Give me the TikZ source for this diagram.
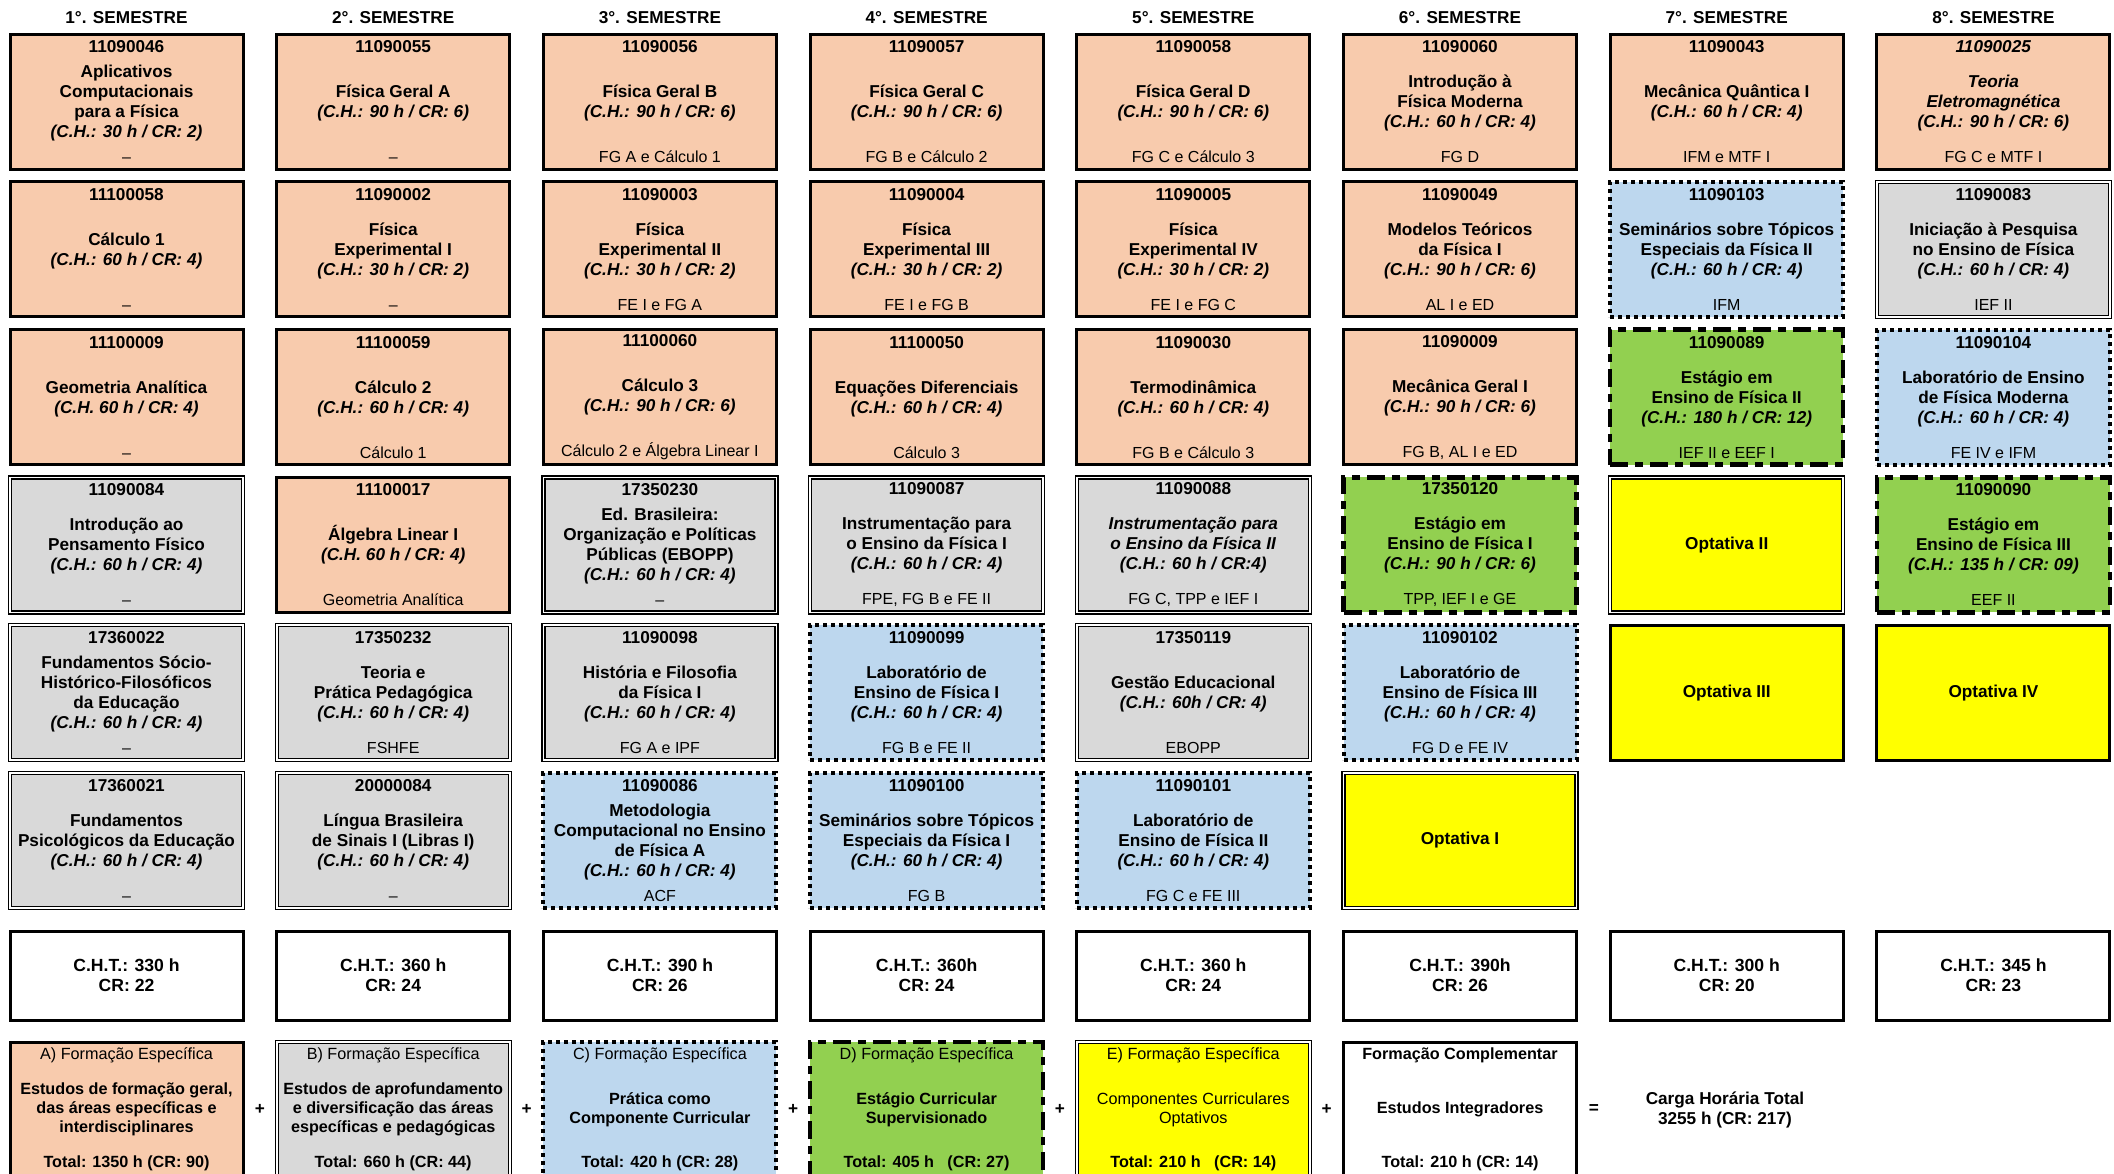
\documentclass[tikz,border=0pt]{standalone}
\usepackage{fontspec}
\setmainfont{Liberation Sans}
\usetikzlibrary{positioning,calc}
\definecolor{salmao}{HTML}{F8CBAD}
\definecolor{cinza}{HTML}{D9D9D9}
\definecolor{azul}{HTML}{BDD7EE}
\definecolor{verde}{HTML}{92D050}
\definecolor{amarelo}{HTML}{FFFF00}
\tikzstyle{dbox}=[rectangle, draw=black, line width=1.5pt, minimum width=116.5pt,
                  minimum height=67.5pt, inner sep=0pt, outer sep=0pt, align=center,
                  font=\fontsize{8.6}{10}\selectfont]
\tikzstyle{obox}=[dbox, fill=salmao]
\tikzstyle{gbox}=[dbox, fill=cinza, double, double distance=0.8pt, line width=0.7pt]
\tikzstyle{bbox}=[dbox, fill=azul, line width=2pt, dash pattern=on 2pt off 2pt]
\tikzstyle{vbox}=[dbox, fill=verde, line width=2.2pt, dash pattern=on 9pt off 3.5pt on 4pt off 3.5pt]
\tikzstyle{ybox}=[dbox, fill=amarelo, font=\fontsize{8.6}{10}\selectfont\bfseries]
\tikzstyle{ydbox}=[ybox, double, double distance=0.8pt, line width=0.7pt]
\tikzstyle{tbox}=[dbox, fill=white, minimum height=44.5pt, font=\fontsize{8.8}{10}\selectfont\bfseries]
\tikzstyle{lbox}=[font=\fontsize{8.1}{9.5}\selectfont]
\tikzstyle{hdr}=[inner sep=0pt, font=\fontsize{8.6}{10}\selectfont\bfseries]
\tikzstyle{opr}=[inner sep=0pt, align=center, font=\fontsize{8.6}{10}\selectfont\bfseries]
\newcommand{\disc}[3]{\parbox[c][61pt][s]{114pt}{\centering\textbf{#1}\par\vfill
  \textbf{#2}\par\vfill{\fontsize{8}{10}\selectfont #3}}}
\newcommand{\legd}[3]{\parbox[c][60pt][s]{114pt}{\centering #1\par\vfill
  #2\par\vfill\textbf{#3}}}
\begin{document}
\begin{tikzpicture}
\useasboundingbox (0,0) rectangle (1057pt,-586.5pt);
\clip (0,0) rectangle (1057pt,-586.5pt);

\node (APC) [obox, anchor=north west] at (5pt,-17pt) {\disc{11090046}{Aplicativos\\Computacionais\\para a Física\\\textit{(C.H.: 30 h / CR: 2)}}{–}};
\node (CALA) [obox, below=6.4pt of APC] {\disc{11100058}{Cálculo 1\\\textit{(C.H.: 60 h / CR: 4)}}{–}};
\node (GA) [obox, below=6.4pt of CALA] {\disc{11100009}{Geometria Analítica\\\textit{(C.H. 60 h / CR: 4)}}{–}};
\node (IPF) [gbox, below=6.4pt of GA] {\disc{11090084}{Introdução ao\\Pensamento Físico\\\textit{(C.H.: 60 h / CR: 4)}}{–}};
\node (FSHFE) [gbox, below=6.4pt of IPF] {\disc{17360022}{Fundamentos Sócio-\\Histórico-Filosóficos\\da Educação\\\textit{(C.H.: 60 h / CR: 4)}}{–}};
\node (FPE) [gbox, below=6.4pt of FSHFE] {\disc{17360021}{Fundamentos\\Psicológicos da Educação\\\textit{(C.H.: 60 h / CR: 4)}}{–}};

\node (FGA) [obox, right=16.85pt of APC] {\disc{11090055}{Física Geral A\\\textit{(C.H.: 90 h / CR: 6)}}{–}};
\node (FEI) [obox, below=6.4pt of FGA] {\disc{11090002}{Física\\Experimental I\\\textit{(C.H.: 30 h / CR: 2)}}{–}};
\node (CALB) [obox, below=6.4pt of FEI] {\disc{11100059}{Cálculo 2\\\textit{(C.H.: 60 h / CR: 4)}}{Cálculo 1}};
\node (ALI) [obox, below=6.4pt of CALB] {\disc{11100017}{Álgebra Linear I\\\textit{(C.H. 60 h / CR: 4)}}{Geometria Analítica}};
\node (TPP) [gbox, below=6.4pt of ALI] {\disc{17350232}{Teoria e\\Prática Pedagógica\\\textit{(C.H.: 60 h / CR: 4)}}{FSHFE}};
\node (LIBRAS) [gbox, below=6.4pt of TPP] {\disc{20000084}{Língua Brasileira\\de Sinais I (Libras I)\\\textit{(C.H.: 60 h / CR: 4)}}{–}};

\node (FGB) [obox, right=16.85pt of FGA] {\disc{11090056}{Física Geral B\\\textit{(C.H.: 90 h / CR: 6)}}{FG A e Cálculo 1}};
\node (FEII) [obox, below=6.4pt of FGB] {\disc{11090003}{Física\\Experimental II\\\textit{(C.H.: 30 h / CR: 2)}}{FE I e FG A}};
\node (CALC) [obox, below=6.4pt of FEII] {\disc{11100060}{Cálculo 3\\\textit{(C.H.: 90 h / CR: 6)}}{Cálculo 2 e Álgebra Linear I}};
\node (EBOPP) [gbox, below=6.4pt of CALC] {\disc{17350230}{Ed. Brasileira:\\Organização e Políticas\\Públicas (EBOPP)\\\textit{(C.H.: 60 h / CR: 4)}}{–}};
\node (HFF) [gbox, below=6.4pt of EBOPP] {\disc{11090098}{História e Filosofia\\da Física I\\\textit{(C.H.: 60 h / CR: 4)}}{FG A e IPF}};
\node (MCEF) [bbox, below=6.4pt of HFF] {\disc{11090086}{Metodologia\\Computacional no Ensino\\de Física A\\\textit{(C.H.: 60 h / CR: 4)}}{ACF}};

\node (FGC) [obox, right=16.85pt of FGB] {\disc{11090057}{Física Geral C\\\textit{(C.H.: 90 h / CR: 6)}}{FG B e Cálculo 2}};
\node (FEIII) [obox, below=6.4pt of FGC] {\disc{11090004}{Física\\Experimental III\\\textit{(C.H.: 30 h / CR: 2)}}{FE I e FG B}};
\node (ED) [obox, below=6.4pt of FEIII] {\disc{11100050}{Equações Diferenciais\\\textit{(C.H.: 60 h / CR: 4)}}{Cálculo 3}};
\node (IEFI) [gbox, below=6.4pt of ED] {\disc{11090087}{Instrumentação para\\o Ensino da Física I\\\textit{(C.H.: 60 h / CR: 4)}}{FPE, FG B e FE II}};
\node (LEFI) [bbox, below=6.4pt of IEFI] {\disc{11090099}{Laboratório de\\Ensino de Física I\\\textit{(C.H.: 60 h / CR: 4)}}{FG B e FE II}};
\node (STEFI) [bbox, below=6.4pt of LEFI] {\disc{11090100}{Seminários sobre Tópicos\\Especiais da Física I\\\textit{(C.H.: 60 h / CR: 4)}}{FG B}};

\node (FGD) [obox, right=16.85pt of FGC] {\disc{11090058}{Física Geral D\\\textit{(C.H.: 90 h / CR: 6)}}{FG C e Cálculo 3}};
\node (FEIV) [obox, below=6.4pt of FGD] {\disc{11090005}{Física\\Experimental IV\\\textit{(C.H.: 30 h / CR: 2)}}{FE I e FG C}};
\node (TERMO) [obox, below=6.4pt of FEIV] {\disc{11090030}{Termodinâmica\\\textit{(C.H.: 60 h / CR: 4)}}{FG B e Cálculo 3}};
\node (IEFII) [gbox, below=6.4pt of TERMO] {\disc{11090088}{\textit{Instrumentação para\\o Ensino da Física II}\\\textit{(C.H.: 60 h / CR:4)}}{FG C, TPP e IEF I}};
\node (GE) [gbox, below=6.4pt of IEFII] {\disc{17350119}{Gestão Educacional\\\textit{(C.H.: 60h / CR: 4)}}{EBOPP}};
\node (LEFII) [bbox, below=6.4pt of GE] {\disc{11090101}{Laboratório de\\Ensino de Física II\\\textit{(C.H.: 60 h / CR: 4)}}{FG C e FE III}};

\node (IFM) [obox, right=16.85pt of FGD] {\disc{11090060}{Introdução à\\Física Moderna\\\textit{(C.H.: 60 h / CR: 4)}}{FG D}};
\node (MTFI) [obox, below=6.4pt of IFM] {\disc{11090049}{Modelos Teóricos\\da Física I\\\textit{(C.H.: 90 h / CR: 6)}}{AL I e ED}};
\node (MGI) [obox, below=6.4pt of MTFI] {\disc{11090009}{Mecânica Geral I\\\textit{(C.H.: 90 h / CR: 6)}}{FG B, AL I e ED}};
\node (EEFI) [vbox, below=6.4pt of MGI] {\disc{17350120}{Estágio em\\Ensino de Física I\\\textit{(C.H.: 90 h / CR: 6)}}{TPP, IEF I e GE}};
\node (LEFIII) [bbox, below=6.4pt of EEFI] {\disc{11090102}{Laboratório de\\Ensino de Física III\\\textit{(C.H.: 60 h / CR: 4)}}{FG D e FE IV}};
\node (OPTI) [ydbox, below=6.4pt of LEFIII] {Optativa I};

\node (MQI) [obox, right=16.85pt of IFM] {\disc{11090043}{Mecânica Quântica I\\\textit{(C.H.: 60 h / CR: 4)}}{IFM e MTF I}};
\node (STEFII) [bbox, below=6.4pt of MQI] {\disc{11090103}{Seminários sobre Tópicos\\Especiais da Física II\\\textit{(C.H.: 60 h / CR: 4)}}{IFM}};
\node (EEFII) [vbox, below=6.4pt of STEFII] {\disc{11090089}{Estágio em\\Ensino de Física II\\\textit{(C.H.: 180 h / CR: 12)}}{IEF II e EEF I}};
\node (OPTII) [ydbox, below=6.4pt of EEFII] {Optativa II};
\node (OPTIII) [ybox, below=6.4pt of OPTII] {Optativa III};

\node (TEM) [obox, right=16.85pt of MQI] {\disc{\textit{11090025}}{\textit{Teoria\\Eletromagnética}\\\textit{(C.H.: 90 h / CR: 6)}}{FG C e MTF I}};
\node (IPEF) [gbox, below=6.4pt of TEM] {\disc{11090083}{Iniciação à Pesquisa\\no Ensino de Física\\\textit{(C.H.: 60 h / CR: 4)}}{IEF II}};
\node (LEFM) [bbox, below=6.4pt of IPEF] {\disc{11090104}{Laboratório de Ensino\\de Física Moderna\\\textit{(C.H.: 60 h / CR: 4)}}{FE IV e IFM}};
\node (EEFIII) [vbox, below=6.4pt of LEFM] {\disc{11090090}{Estágio em\\Ensino de Física III\\\textit{(C.H.: 135 h / CR: 09)}}{EEF II}};
\node (OPTIV) [ybox, below=6.4pt of EEFIII] {Optativa IV};

\node (SEM1) [hdr, above=5pt of APC] {1°. SEMESTRE};
\node (SEM2) [hdr, above=5pt of FGA] {2°. SEMESTRE};
\node (SEM3) [hdr, above=5pt of FGB] {3°. SEMESTRE};
\node (SEM4) [hdr, above=5pt of FGC] {4°. SEMESTRE};
\node (SEM5) [hdr, above=5pt of FGD] {5°. SEMESTRE};
\node (SEM6) [hdr, above=5pt of IFM] {6°. SEMESTRE};
\node (SEM7) [hdr, above=5pt of MQI] {7°. SEMESTRE};
\node (SEM8) [hdr, above=5pt of TEM] {8°. SEMESTRE};

\node (CHT1) [tbox, below=11.5pt of FPE] {C.H.T.: 330 h\\CR: 22};
\node (CHT2) [tbox, right=16.85pt of CHT1] {C.H.T.: 360 h\\CR: 24};
\node (CHT3) [tbox, right=16.85pt of CHT2] {C.H.T.: 390 h\\CR: 26};
\node (CHT4) [tbox, right=16.85pt of CHT3] {C.H.T.: 360h\\CR: 24};
\node (CHT5) [tbox, right=16.85pt of CHT4] {C.H.T.: 360 h\\CR: 24};
\node (CHT6) [tbox, right=16.85pt of CHT5] {C.H.T.: 390h\\CR: 26};
\node (CHT7) [tbox, right=16.85pt of CHT6] {C.H.T.: 300 h\\CR: 20};
\node (CHT8) [tbox, right=16.85pt of CHT7] {C.H.T.: 345 h\\CR: 23};

\node (FEA) [obox, lbox, below=11pt of CHT1] {\legd{A) Formação Específica}{\textbf{Estudos de formação geral,\\das áreas específicas e\\interdisciplinares}}{Total: 1350 h (CR: 90)}};
\node (FEB) [gbox, lbox, below=11pt of CHT2] {\legd{B) Formação Específica}{\textbf{Estudos~de~aprofundamento\\e diversificação das áreas\\específicas e pedagógicas}}{Total: 660 h (CR: 44)}};
\node (FEC) [bbox, lbox, below=11pt of CHT3] {\legd{C) Formação Específica}{\textbf{Prática como\\Componente Curricular}}{Total: 420 h (CR: 28)}};
\node (FED) [vbox, lbox, below=11pt of CHT4] {\legd{D) Formação Específica}{\textbf{Estágio Curricular\\Supervisionado}}{Total: 405 h\ \ \ (CR: 27)}};
\node (FEE) [ydbox, lbox, below=11pt of CHT5] {\legd{E) Formação Específica}{Componentes Curriculares\\Optativos}{Total: 210 h\ \ \ (CR: 14)}};
\node (FCOMP) [dbox, lbox, fill=white, below=11pt of CHT6] {\legd{\textbf{Formação Complementar}}{\textbf{Estudos Integradores}}{Total: 210 h (CR: 14)}};

\node (PLA) [opr] at ($(FEA.east)!0.5!(FEB.west)$) {+};
\node (PLB) [opr] at ($(FEB.east)!0.5!(FEC.west)$) {+};
\node (PLC) [opr] at ($(FEC.east)!0.5!(FED.west)$) {+};
\node (PLD) [opr] at ($(FED.east)!0.5!(FEE.west)$) {+};
\node (PLE) [opr] at ($(FEE.east)!0.5!(FCOMP.west)$) {+};
\node (EQ) [opr, right=6pt of FCOMP] {=};
\node (CHTOT) [opr, right=23pt of EQ] {Carga Horária Total\\3255 h (CR: 217)};

\end{tikzpicture}
\end{document}
